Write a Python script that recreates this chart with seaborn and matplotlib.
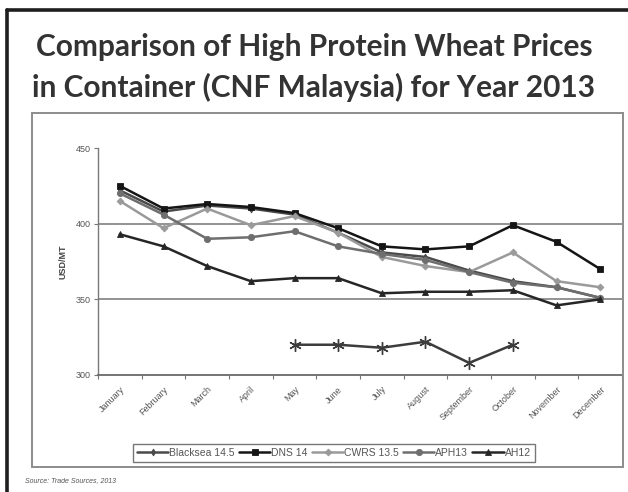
import numpy as np
import pandas as pd
import seaborn as sns
import matplotlib.pyplot as plt
from matplotlib.patches import Rectangle
from matplotlib.lines import Line2D

sns.set_theme(style="white")
plt.rcParams["font.family"] = ["Liberation Sans", "DejaVu Sans"]

months = ["January", "February", "March", "April", "May", "June", "July",
          "August", "September", "October", "November", "December"]

blacksea_145 = [422, 408, 412, 410, 406, 394, 381, 378, 369, 362, 358, 351]
dns_14 = [425, 410, 413, 411, 407, 397, 385, 383, 385, 399, 388, 370]
cwrs_135 = [415, 397, 410, 399, 405, 394, 378, 372, 368, 381, 362, 358]
aph13 = [420, 406, 390, 391, 395, 385, 380, 376, 368, 361, 358, 351]
ah12 = [393, 385, 372, 362, 364, 364, 354, 355, 355, 356, 346, 350]
unlabelled = [np.nan, np.nan, np.nan, np.nan, 320, 320, 318, 322, 308, 320, np.nan, np.nan]

series_names = ["Blacksea 14.5", "DNS 14", "CWRS 13.5", "APH13", "AH12"]
series_values = [blacksea_145, dns_14, cwrs_135, aph13, ah12]

styles = {
    "Blacksea 14.5": dict(color="#4a4a4a", marker="d", markersize=3.5, linewidth=1.8),
    "DNS 14": dict(color="#151515", marker="s", markersize=5, linewidth=1.8),
    "CWRS 13.5": dict(color="#9a9a9a", marker="D", markersize=3.5, linewidth=1.8),
    "APH13": dict(color="#6e6e6e", marker="o", markersize=4.5, linewidth=1.8),
    "AH12": dict(color="#262626", marker="^", markersize=5, linewidth=1.8),
}

W, H = 628, 492
fig = plt.figure(figsize=(W / 100, H / 100), dpi=100)
fig.patch.set_facecolor("white")

# outer frame (left and top edges) and inner chart box
fig.add_artist(Line2D([7 / W, 7 / W], [0, 1 - 10 / H], transform=fig.transFigure,
                      color="#1e1e1e", linewidth=2.6))
fig.add_artist(Line2D([7 / W, 1], [1 - 10 / H, 1 - 10 / H], transform=fig.transFigure,
                      color="#1e1e1e", linewidth=2.6))
fig.add_artist(Rectangle((32 / W, 1 - 467 / H), (623 - 32) / W, (467 - 113) / H,
                         transform=fig.transFigure, fill=False,
                         edgecolor="#8c8c8c", linewidth=1.4))

title_font = dict(ha="center", va="center", fontsize=21.5, fontweight="bold",
                  color="#333333", family=["Lato", "DejaVu Sans"])
fig.text(0.5, 1 - 47 / H, "Comparison of High Protein Wheat Prices", **title_font)
fig.text(0.5, 1 - 87 / H, "in Container (CNF Malaysia) for Year 2013", **title_font)

ax = fig.add_axes([98 / W, 1 - 375 / H, (622 - 98) / W, (375 - 148) / H])
ax.set_facecolor("none")

x = np.arange(len(months))
for name, vals in zip(series_names, series_values):
    sns.lineplot(x=x, y=vals, ax=ax, label=name, markeredgewidth=0.6,
                 markeredgecolor=styles[name]["color"], **styles[name])

sns.lineplot(x=x, y=unlabelled, ax=ax, legend=False, color="#3c3c3c",
             marker=(6, 2, 0), markersize=9, markeredgewidth=1.0,
             markeredgecolor="#3c3c3c", linewidth=1.8)

ax.set_ylim(300, 450)
ax.set_xlim(-0.5, len(months) - 0.5)
ax.set_yticks([300, 350, 400, 450])
ax.set_yticklabels(["300", "350", "400", "450"], fontsize=6.5, color="#555555")
for yv in (350, 400):
    ax.axhline(yv, color="#8a8a8a", linewidth=1.3, zorder=0)

ax.set_xticks(x)
ax.set_xticklabels(months, rotation=45, ha="right", rotation_mode="anchor",
                   fontsize=6.5, color="#555555")
ax.set_xticks(np.arange(len(months) + 1) - 0.5, minor=True)
ax.tick_params(axis="x", which="major", length=0, pad=7)
ax.tick_params(axis="x", which="minor", length=3, width=0.8, color="#777777",
               direction="out", bottom=True)
ax.tick_params(axis="y", which="major", length=3, width=0.8, color="#777777",
               direction="out", left=True, pad=2)

for side in ("top", "right"):
    ax.spines[side].set_visible(False)
ax.spines["left"].set_color("#7a7a7a")
ax.spines["left"].set_linewidth(1.0)
ax.spines["bottom"].set_color("#6a6a6a")
ax.spines["bottom"].set_linewidth(1.3)

ax.set_xlabel("")
ax.set_ylabel("USD/MT", fontsize=6.5, fontweight="bold", color="#444444", labelpad=6)

handles, labels = ax.get_legend_handles_labels()
ax.get_legend().remove()
leg = fig.legend(handles, labels, loc="center", ncol=5,
                 bbox_to_anchor=(334 / W, 1 - 453 / H), fontsize=7.5,
                 frameon=True, fancybox=False, edgecolor="#555555",
                 handlelength=3.0, handletextpad=0.1, columnspacing=0.4,
                 borderpad=0.35, labelcolor="#555555")
leg.get_frame().set_linewidth(1.0)

fig.text(25 / W, 1 - 481 / H, "Source: Trade Sources, 2013", fontsize=5,
         style="italic", color="#555555", va="center")

fig.savefig("out.png", dpi=100)
